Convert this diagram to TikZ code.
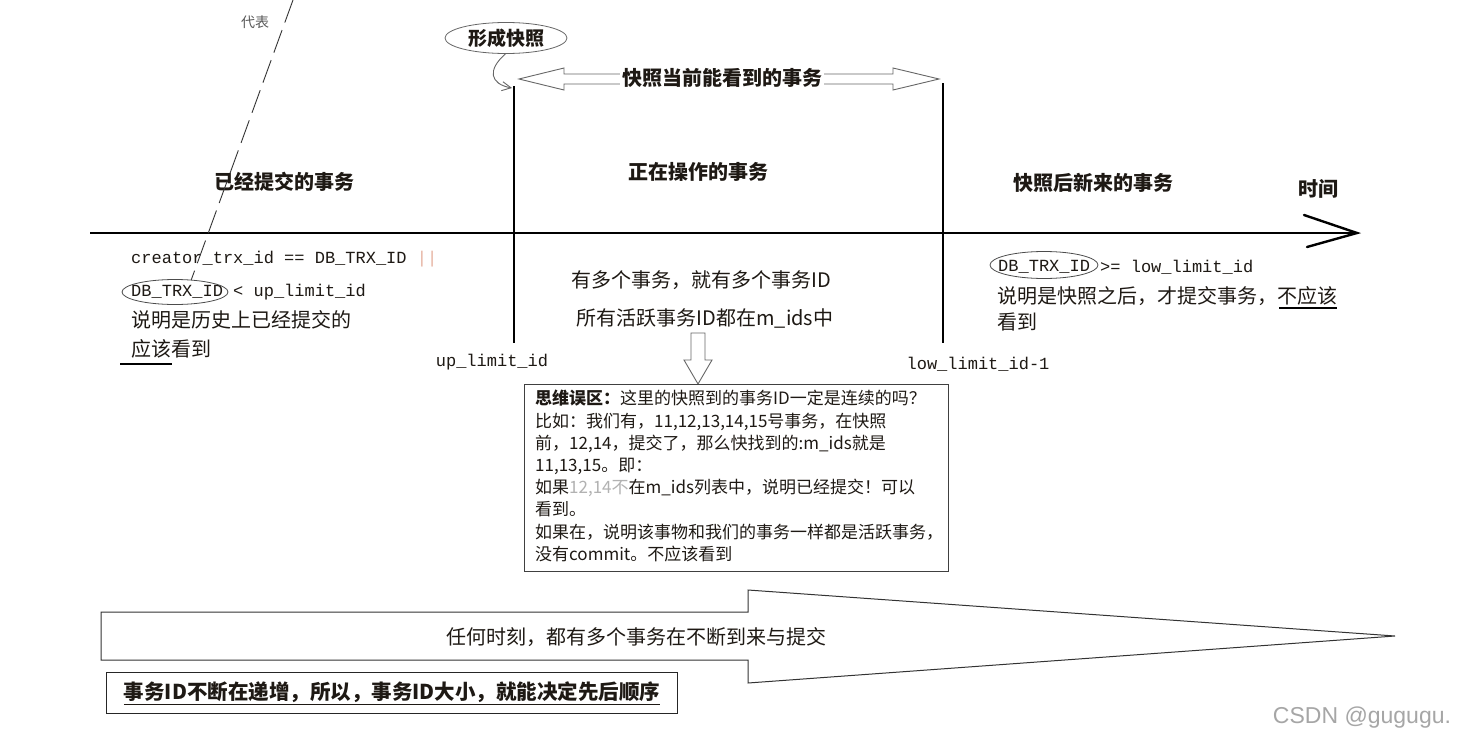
\documentclass[tikz,border=0pt]{standalone}
\usepackage{fontspec}
\setmainfont{Noto Sans CJK SC}
\newfontfamily\monof{Liberation Mono}
\newfontfamily\wmf{Liberation Sans}
\usetikzlibrary{shapes.geometric,arrows.meta,calc}
\definecolor{orbar}{RGB}{230,178,160}
\definecolor{inkc}{RGB}{30,25,20}
\begin{document}
\begin{tikzpicture}[x=1pt,y=-1pt,
  txt/.style={inner sep=0, text=inkc, font=\fontsize{20}{24}\selectfont},
  code/.style={inner sep=0, text=inkc, font=\monof\fontsize{17}{20}\selectfont},
  head/.style={inner sep=0, text=inkc, font=\bfseries\fontsize{20}{24}\selectfont},
  ell/.style={ellipse, draw=black!70, line width=0.8pt, inner sep=0},
  blockarrow/.style={draw=black!60, line width=0.9pt, fill=white},
  vline/.style={line width=2.6pt, black},
  uline/.style={line width=1.6pt, black}]
\useasboundingbox (0,0) rectangle (1469,744);
\fill[white] (0,0) rectangle (1469,744);

% dashed "representative" line
\node[inner sep=0, text=black!65, font=\fontsize{14}{16}\selectfont] (rep) at (255,22) {代表};

% headings
\node[head] (h1) at (284,182) {已经提交的事务};
\node[head] (h2) at (698,172) {正在操作的事务};
\node[head] (h3) at (1093,183) {快照后新来的事务};
\node[head] (h4) at (1318,189) {时间};

% time axis
\coordinate (ax0) at (90,233);
\coordinate (ax1) at (1357,233);
\draw[line width=2.4pt] (ax0) -- (ax1);
\draw[line width=2.4pt, line cap=round] (ax1) ++(-53,-18) -- (ax1) -- ++(-50,14);

% vertical boundary lines
\coordinate (ut) at (514,86);
\coordinate (ub) at (514,343);
\coordinate (rt) at (943,83);
\coordinate (rb) at (943,343);
\draw[vline] (ut) -- (ub);
\draw[vline] (rt) -- (rb);

% snapshot ellipse + curved arrow
\node[ell, draw=black!60, minimum width=122, minimum height=31,
      font=\bfseries\fontsize{19}{22}\selectfont, text=inkc] (snap) at (506,38) {形成快照};
\draw[black!60, line width=0.9pt, -{Straight Barb[length=9pt,width=9pt]}]
  (snap.268) .. controls (487,70) and (490,84) .. ($(ut)+(-2,2)$);

% double block arrow
\draw[blockarrow] (519,79) -- (564,68) -- (564,74) -- (893,74) -- (893,68) -- (939,79)
  -- (893,90) -- (893,84) -- (564,84) -- (564,90) -- cycle;
\node[head, fill=white, inner xsep=2pt, inner ysep=1pt] (vis) at (722,78) {快照当前能看到的事务};

% left region
\node[code, anchor=west] (c1) at (131,259) {creator\_trx\_id == DB\_TRX\_ID \textcolor{orbar}{||}};
\node[code, anchor=west] (c2) at (131,292) {DB\_TRX\_ID};
\node[ell, minimum width=106, minimum height=25] (e1) at (175,292) {};
\node[code, anchor=west] (c3) at (233,292) {< up\_limit\_id};
\node[txt, anchor=west] (c4) at (131,320) {说明是历史上已经提交的};
\node[txt, anchor=west] (c5) at (131,349) {应该看到};
\draw[uline] ($(c5.west)+(-11,15)$) -- ++(52,0);

\coordinate (dtop) at (293,0);
\draw[black!80, line width=0.9pt, dash pattern=on 24pt off 8pt] (dtop) -- (e1.37);

% middle region
\node[txt] (m1) at (701,280) {有多个事务，就有多个事务ID};
\node[txt] (m2) at (705,318) {所有活跃事务ID都在m\_ids中};
\node[code] (ul) at (492,362) {up\_limit\_id};
\node[code] (ll) at (978,364) {low\_limit\_id-1};

% down block arrow
\draw[blockarrow] (691,333) -- (691,360) -- (684,360) -- (698,384) -- (712,360) -- (705,360) -- (705,333) -- cycle;

% note box
\node[draw=black!75, line width=1pt, minimum width=424, minimum height=187, anchor=north west, inner sep=0] (box) at (524,384) {};
\node[anchor=north west, align=left, inner sep=0, text=inkc, font=\fontsize{17}{22.2}\selectfont]
  (note) at ($(box.north west)+(11,6)$) {%
  \textbf{思维误区：}这里的快照到的事务ID一定是连续的吗？\\
  比如：我们有，11,12,13,14,15号事务，在快照\\
  前，12,14，提交了，那么快找到的:m\_ids就是\\
  11,13,15。即：\\
  如果\textcolor{black!30}{12,14不}在m\_ids列表中，说明已经提交！可以\\
  看到。\\
  如果在，说明该事物和我们的事务一样都是活跃事务，\\
  没有commit。不应该看到};

% right region
\node[code, anchor=west] (r1) at (998,267) {DB\_TRX\_ID};
\node[ell, minimum width=108, minimum height=27] (e2) at (1044,265) {};
\node[code, anchor=west] (r2) at (1100,267) {>= low\_limit\_id};
\node[txt, anchor=west] (r3) at (997,296) {说明是快照之后，才提交事务，不应该};
\node[txt, anchor=west] (r4) at (997,322) {看到};
\draw[uline] ($(r3.east)+(-58,12)$) -- ++(58,0);

% bottom big arrow
\draw[black!80, line width=1pt, fill=white] (101,612) -- (748,612) -- (748,590) -- (1395,636)
  -- (748,683) -- (748,660) -- (101,660) -- cycle;
\node[txt] (b1) at (636,637) {任何时刻，都有多个事务在不断到来与提交};

% bottom box
\node[draw=black!85, line width=1.6pt, minimum width=571, minimum height=41, inner sep=0,
      text=inkc, font=\bfseries\fontsize{20.5}{24}\selectfont] (b2) at (392,693)
  {\underline{事务ID不断在递增，所以，事务ID大小，就能决定先后顺序}};

% watermark
\node[inner sep=0, text=black!35, font=\wmf\fontsize{23}{26}\selectfont] (wm) at (1362,718) {CSDN @gugugu.};
\end{tikzpicture}
\end{document}
